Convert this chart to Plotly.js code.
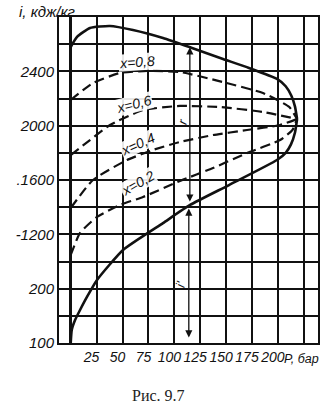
<!DOCTYPE html>
<html><head><meta charset="utf-8">
<script src="https://cdn.plot.ly/plotly-3.0.1.min.js"></script>
<style>html,body{margin:0;padding:0;background:#fff}#chart{width:324px;height:413px}</style>
</head><body><div id="chart"></div>
<script>
// Saturated vapour line (i'')
const P_vap = [0, 6.1, 18.6, 37.9, 60.1, 89.1, 117.1, 147.0, 172.1, 199.1, 207.5, 213.0, 216.5, 218.5];
const i_vap = [2579, 2653, 2719, 2734, 2704, 2645, 2572, 2491, 2425, 2344, 2290, 2220, 2140, 2049];
// Saturated liquid line (i')
const P_liq = [0, 1.0, 4.2, 9.0, 15.7, 25.4, 50.5, 89.1, 115.2, 152.8, 199.1, 207.5, 212.5, 216.5, 218.5];
const i_liq = [400, 496, 569, 643, 739, 864, 1085, 1283, 1416, 1563, 1747, 1800, 1860, 1950, 2049];
// Lines of constant dryness x
const P_x08 = [0, 21.5, 47.6, 73.7, 105.5, 147.0, 185.6, 211.0, 218.5];
const i_x08 = [2189, 2314, 2388, 2403, 2395, 2321, 2240, 2137, 2049];
const P_x06 = [0, 18.6, 37.9, 69.8, 105.5, 144.1, 185.6, 218.5];
const i_x06 = [1784, 1894, 2005, 2115, 2145, 2137, 2101, 2049];
const P_x04 = [0, 21.5, 54.3, 79.4, 105.5, 137.4, 170.2, 202.1, 218.5];
const i_x04 = [1394, 1600, 1747, 1821, 1880, 1931, 1968, 2005, 2049];
const P_x02 = [0, 9.0, 25.4, 47.6, 69.8, 105.5, 137.4, 170.2, 202.1, 214.0, 218.5];
const i_x02 = [1048, 1210, 1328, 1416, 1475, 1593, 1688, 1799, 1894, 1968, 2049];
// Axis ticks
const xTickVals = [0, 25, 50, 75, 100, 125, 150, 175, 200, 225];
const xTickText = ["", "25", "50", "75", "100", "125", "150", "175", "200", ""];
const yTickVals = [400, 600, 800, 1000, 1200, 1400, 1600, 1800, 2000, 2200, 2400, 2600, 2800];
const yTickText = ["100", "", "200", "", "-1200", "", ".1600", "", "2000", "", "2400", "", ""];
// Pressure at which r and i' are shown
const P_arrow = 115;

function interp(xs, ys, x) {
  for (let k = 0; k < xs.length - 1; k++) {
    if (x >= xs[k] && x <= xs[k + 1]) {
      const t = (x - xs[k]) / (xs[k + 1] - xs[k]);
      return ys[k] + t * (ys[k + 1] - ys[k]);
    }
  }
  return ys[ys.length - 1];
}
const iL = interp(P_liq, i_liq, P_arrow);
const iV = interp(P_vap, i_vap, P_arrow);

const solid = {color: '#111', width: 2.6, shape: 'spline', smoothing: 0.5};
const dashed = {color: '#111', width: 2.2, dash: '10px,5px', shape: 'spline', smoothing: 0.5};
const traces = [
  {x: P_vap, y: i_vap, mode: 'lines', line: solid},
  {x: P_liq, y: i_liq, mode: 'lines', line: solid},
  {x: P_x08, y: i_x08, mode: 'lines', line: dashed},
  {x: P_x06, y: i_x06, mode: 'lines', line: dashed},
  {x: P_x04, y: i_x04, mode: 'lines', line: dashed},
  {x: P_x02, y: i_x02, mode: 'lines', line: dashed}
];

const lf = {family: 'Liberation Sans, DejaVu Sans, sans-serif', size: 14, color: '#111', style: 'italic'};
function lab(text, x, y, ang) {
  return {text: text, x: x, y: y, xref: 'x', yref: 'y', showarrow: false, textangle: ang,
          font: lf, bgcolor: 'rgba(255,255,255,0.9)', borderpad: 0};
}
const annotations = [
  lab('x=0,8', 64, 2469, -4),
  lab('x=0,6', 61, 2159, -14),
  lab('x=0,4', 65, 1865, -24),
  lab('x=0,2', 65, 1578, -30),
  {text: 'r', x: 108, y: 2030, xref: 'x', yref: 'y', showarrow: false, textangle: -75,
   font: {family: 'Liberation Sans, sans-serif', size: 13, color: '#111', style: 'italic'}},
  {text: "i'", x: 106, y: 830, xref: 'x', yref: 'y', showarrow: false, textangle: -75,
   font: {family: 'Liberation Sans, sans-serif', size: 13, color: '#111', style: 'italic'}},
  // r arrow
  {x: P_arrow, y: iV, ax: P_arrow, ay: iL + 15, xref: 'x', yref: 'y', axref: 'x', ayref: 'y',
   text: '', showarrow: true, arrowhead: 2, arrowside: 'end+start', arrowsize: 1.1, arrowwidth: 1.3, arrowcolor: '#111'},
  // i' arrow
  {x: P_arrow - 1, y: iL - 25, ax: P_arrow - 1, ay: 430, xref: 'x', yref: 'y', axref: 'x', ayref: 'y',
   text: '', showarrow: true, arrowhead: 2, arrowside: 'end+start', arrowsize: 1.1, arrowwidth: 1.3, arrowcolor: '#111'},
  {text: 'i, кдж/кг', x: 17, y: 11, xref: 'paper', yref: 'paper', xanchor: 'left', yanchor: 'middle', showarrow: false,
   font: {family: 'Liberation Sans, sans-serif', size: 15, color: '#111', style: 'italic'}},
  {text: 'P, бар', x: 282, y: 359, xanchor: 'left', yanchor: 'middle', xref: 'paper', yref: 'paper', showarrow: false,
   font: {family: 'Liberation Sans, sans-serif', size: 12.5, color: '#111', style: 'italic'}},
  {text: 'Рис. 9.7', x: 158, y: 395, xanchor: 'center', yanchor: 'middle', xref: 'paper', yref: 'paper', showarrow: false,
   font: {family: 'Liberation Serif, serif', size: 16, color: '#222'}}
];
// convert pixel-positioned paper annotations
annotations.forEach(a => {
  if (a.xref === 'paper') {
    a.x = (a.x - 59) / 259; a.y = (343 - a.y) / 326;
  }
});

const layout = {
  width: 324, height: 413,
  margin: {l: 59, r: 6, t: 17, b: 70},
  paper_bgcolor: '#fff', plot_bgcolor: '#fff',
  showlegend: false,
  xaxis: {range: [-11.3, 238.7], tickvals: xTickVals, ticktext: xTickText, showgrid: true,
          gridcolor: '#111', gridwidth: 2, zeroline: true, zerolinecolor: '#111', zerolinewidth: 3,
          showline: true, mirror: true, linecolor: '#111', linewidth: 2, ticks: '', tickangle: 0,
          ticklabelshift: -5,
          tickfont: {family: 'Liberation Sans, sans-serif', size: 14, color: '#111', style: 'italic'}},
  yaxis: {range: [400, 2800], tickvals: yTickVals, ticktext: yTickText, showgrid: true,
          gridcolor: '#111', gridwidth: 2, zeroline: false,
          showline: true, mirror: true, linecolor: '#111', linewidth: 2, ticks: '',
          tickfont: {family: 'Liberation Sans, sans-serif', size: 15, color: '#111', style: 'italic'}},
  annotations: annotations
};
Plotly.newPlot('chart', traces, layout, {staticPlot: true, displayModeBar: false});
</script></body></html>
